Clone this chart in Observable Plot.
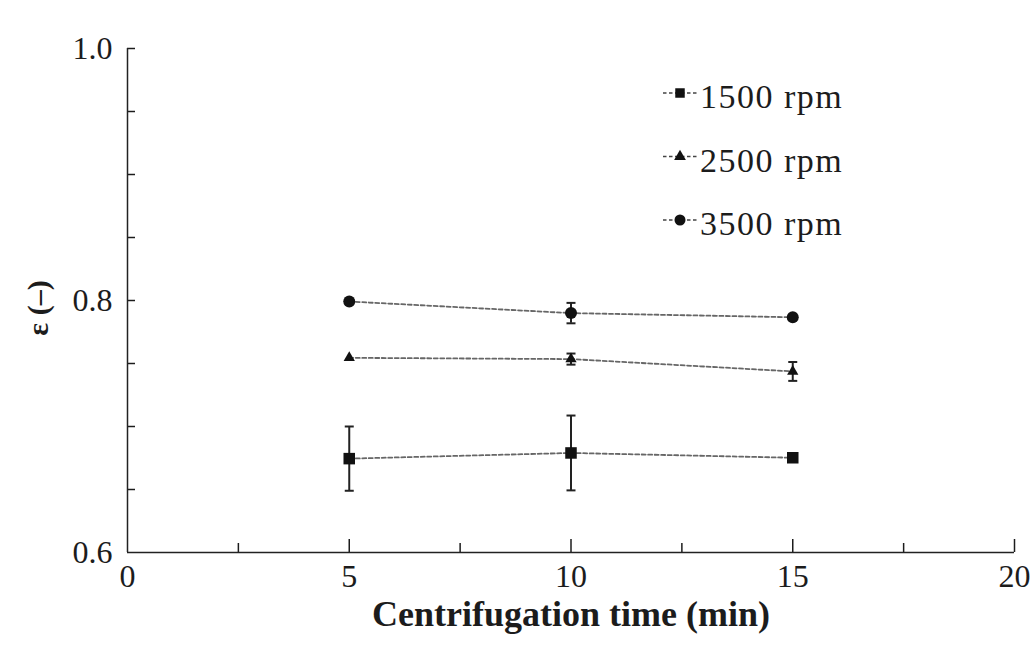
<!DOCTYPE html>
<html>
<head>
<meta charset="utf-8">
<script src="https://cdn.jsdelivr.net/npm/d3@7"></script>
<script src="https://cdn.jsdelivr.net/npm/@observablehq/plot@0.6"></script>
<style>
  html, body { margin: 0; padding: 0; background: #fff; }
  #chart { position: relative; width: 1032px; height: 646px; }
</style>
</head>
<body>
<div id="chart"></div>
<script>
// ---- data ----
const times = [5, 10, 15];
const series = ["1500 rpm", "2500 rpm", "3500 rpm"];
const eps1500 = [0.6745, 0.679, 0.6752];
const err1500 = [0.0255, 0.0297, 0];
const eps2500 = [0.7545, 0.7535, 0.7437];
const err2500 = [0, 0.0044, 0.0075];
const eps3500 = [0.7992, 0.790, 0.7867];
const err3500 = [0, 0.0081, 0];
const symbols = ["square", "triangle", "circle"];
const xLabelTicks = [0, 5, 10, 15, 20];
const xMajorTicks = [5, 10, 15, 20];
const xMinorTicks = [2.5, 7.5, 12.5, 17.5];
const yLabelTicks = [0.6, 0.8, 1.0];
const yMinorTicks = [0.65, 0.7, 0.75, 0.8, 0.85, 0.9, 0.95, 1.0];

const values = [eps1500, eps2500, eps3500];
const errors = [err1500, err2500, err3500];
const rows = [];
series.forEach((s, i) => times.forEach((t, j) => rows.push({
  series: s, time: t, eps: values[i][j], err: errors[i][j], symbol: symbols[i]
})));
const errRows = rows.filter(d => d.err > 0);

const capSymbol = { draw(ctx) { ctx.moveTo(-4.5, 0); ctx.lineTo(4.5, 0); } };
const symSize = { square: 6.5, triangle: 4.2, circle: 6 };

const serif = "'Liberation Serif', 'Times New Roman', serif";

const plot = Plot.plot({
  width: 1032,
  height: 646,
  marginLeft: 127,
  marginRight: 18,
  marginTop: 48,
  marginBottom: 94,
  x: { domain: [0, 20] },
  y: { domain: [0.6, 1.0] },
  style: { fontFamily: serif, fontSize: "32px", color: "#1c1c1c", background: "#fff", overflow: "visible" },
  marks: [
    // axes
    Plot.axisX({ ticks: xMajorTicks, tickSize: -13, tickFormat: () => "", label: null, strokeWidth: 1.5 }),
    Plot.axisX({ ticks: xMinorTicks, tickSize: -9, tickFormat: () => "", label: null, strokeWidth: 1.5 }),
    Plot.axisX({ ticks: xLabelTicks, tickSize: 0, tickPadding: 12, tickFormat: d3.format("d"), label: null }),
    Plot.axisY({ ticks: yMinorTicks, tickSize: -8, tickFormat: () => "", label: null, strokeWidth: 1.5 }),
    Plot.axisY({ ticks: yLabelTicks, tickSize: 0, tickPadding: 15, tickFormat: d3.format(".1f"), label: null }),
    Plot.ruleY([0.6], { stroke: "#222", strokeWidth: 1.5 }),
    Plot.ruleX([0], { stroke: "#222", strokeWidth: 1.5 }),
    // lines
    Plot.line(rows, { x: "time", y: "eps", z: "series", stroke: "#666", strokeWidth: 1.8, strokeDasharray: "4,2.5" }),
    // error bars
    Plot.ruleX(errRows, { x: "time", y1: d => d.eps - d.err, y2: d => d.eps + d.err, stroke: "#222", strokeWidth: 2 }),
    Plot.dot(errRows, { x: "time", y: d => d.eps - d.err, symbol: () => capSymbol, r: 4, stroke: "#222", strokeWidth: 2 }),
    Plot.dot(errRows, { x: "time", y: d => d.eps + d.err, symbol: () => capSymbol, r: 4, stroke: "#222", strokeWidth: 2 }),
    // markers
    ...symbols.map((s, i) => Plot.dot(rows.filter(d => d.symbol === s), {
      x: "time", y: "eps", symbol: s, r: symSize[s], fill: "#111", stroke: "none"
    }))
  ]
});

document.getElementById("chart").appendChild(plot);

const svg = d3.select(plot);
// axis titles
svg.append("text")
  .attr("x", 571).attr("y", 626)
  .attr("text-anchor", "middle")
  .style("font-family", serif).style("font-size", "36px").style("font-weight", "bold").style("fill", "#1c1c1c")
  .text("Centrifugation time (min)");
svg.append("text")
  .attr("transform", "translate(48,308) rotate(-90)")
  .attr("text-anchor", "middle")
  .style("font-family", serif).style("font-size", "30px").style("font-weight", "bold").style("fill", "#1c1c1c")
  .text("ε (–)");

// legend
const legend = svg.append("g").attr("text-anchor", "start");
const legendShapes = symbols.map(s => d3.symbol().type(
  s === "square" ? d3.symbolSquare : s === "triangle" ? d3.symbolTriangle : d3.symbolCircle));
const legendSizes = { square: 90, triangle: 60, circle: 95 };
series.forEach((s, i) => {
  const y = 93 + i * 63.5;
  const g = legend.append("g").attr("transform", `translate(0,${y})`);
  g.append("line").attr("x1", 663).attr("x2", 697).attr("y1", 0).attr("y2", 0)
    .style("stroke", "#444").style("stroke-width", "1.5px").style("stroke-dasharray", "3.5,2.5");
  g.append("path").attr("transform", "translate(680,0)")
    .attr("d", legendShapes[i].size(legendSizes[symbols[i]])()).style("fill", "#111");
  g.append("text").attr("x", 700).attr("y", 15)
    .attr("text-anchor", "start")
    .style("font-family", serif).style("font-size", "34px").style("letter-spacing", "1.5px").style("fill", "#1c1c1c")
    .text(s);
});
</script>
</body>
</html>
